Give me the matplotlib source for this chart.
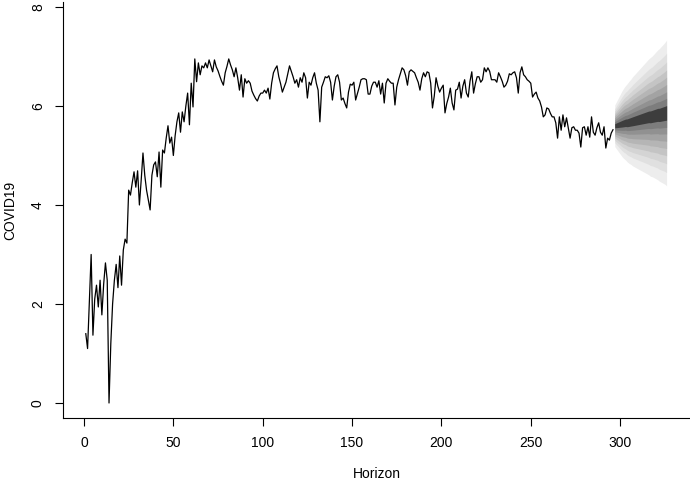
import numpy as np
import matplotlib
matplotlib.use("Agg")
import matplotlib.pyplot as plt

plt.rcParams['font.family'] = ['Liberation Sans', 'DejaVu Sans']

# observed series (index 1..296)
covid = [
    1.40, 1.10, 2.05, 3.00, 1.37, 2.10, 2.38, 1.94, 2.48, 1.78,
    2.40, 2.83, 2.48, 0.00, 1.20, 2.00, 2.48, 2.80, 2.33, 2.97,
    2.38, 3.09, 3.31, 3.23, 4.30, 4.20, 4.45, 4.67, 4.36, 4.69,
    4.00, 4.50, 5.05, 4.60, 4.30, 4.10, 3.90, 4.60, 4.81, 4.87,
    4.57, 5.07, 4.36, 5.11, 5.05, 5.35, 5.60, 5.25, 5.37, 5.00,
    5.40, 5.68, 5.86, 5.47, 5.88, 5.68, 6.00, 6.26, 5.62, 6.46,
    5.98, 6.95, 6.49, 6.87, 6.63, 6.81, 6.77, 6.87, 6.77, 6.93,
    6.81, 6.69, 6.93, 6.79, 6.71, 6.60, 6.50, 6.42, 6.67, 6.80,
    6.95, 6.83, 6.73, 6.59, 6.77, 6.57, 6.32, 6.63, 6.18, 6.55,
    6.46, 6.51, 6.46, 6.30, 6.22, 6.15, 6.10, 6.20, 6.26, 6.26,
    6.32, 6.26, 6.36, 6.14, 6.46, 6.67, 6.75, 6.81, 6.59, 6.45,
    6.28, 6.38, 6.48, 6.65, 6.81, 6.70, 6.59, 6.46, 6.53, 6.38,
    6.57, 6.48, 6.67, 6.57, 6.16, 6.48, 6.42, 6.57, 6.67, 6.46,
    6.32, 5.68, 6.38, 6.48, 6.59, 6.57, 6.61, 6.48, 6.12, 6.40,
    6.59, 6.63, 6.48, 6.12, 6.16, 6.05, 5.96, 6.28, 6.44, 6.42,
    6.48, 6.12, 6.25, 6.38, 6.53, 6.55, 6.55, 6.53, 6.24, 6.24,
    6.40, 6.48, 6.48, 6.38, 6.51, 6.24, 6.46, 6.06, 6.46, 6.55,
    6.50, 6.46, 6.46, 6.02, 6.38, 6.53, 6.65, 6.77, 6.73, 6.61,
    6.42, 6.69, 6.73, 6.70, 6.67, 6.57, 6.48, 6.32, 6.55, 6.67,
    6.59, 6.69, 6.67, 6.46, 5.96, 6.20, 6.57, 6.40, 6.28, 6.36,
    6.42, 5.86, 6.05, 6.18, 6.36, 6.06, 5.92, 6.32, 6.34, 6.48,
    6.16, 6.40, 6.53, 6.26, 6.18, 6.50, 6.69, 6.26, 6.45, 6.59,
    6.59, 6.48, 6.53, 6.77, 6.69, 6.77, 6.70, 6.53, 6.53, 6.53,
    6.48, 6.67, 6.59, 6.50, 6.38, 6.42, 6.50, 6.65, 6.63, 6.67,
    6.69, 6.57, 6.26, 6.67, 6.79, 6.63, 6.59, 6.53, 6.50, 6.46,
    6.18, 6.24, 6.28, 6.16, 6.10, 5.98, 5.78, 5.82, 5.96, 5.94,
    5.85, 5.78, 5.78, 5.66, 5.35, 5.78, 5.51, 5.82, 5.58, 5.76,
    5.56, 5.35, 5.56, 5.58, 5.51, 5.51, 5.45, 5.17, 5.56, 5.58,
    5.41, 5.58, 5.37, 5.78, 5.47, 5.41, 5.56, 5.66, 5.47, 5.41,
    5.58, 5.15, 5.35, 5.31, 5.45, 5.52,
]

# forecast: point forecast and outer (widest band) half-width, h = 1..30
fc_mean = [
    5.60, 5.61, 5.62, 5.63, 5.64, 5.65, 5.66, 5.66, 5.67, 5.68,
    5.69, 5.70, 5.71, 5.72, 5.73, 5.74, 5.75, 5.76, 5.77, 5.78,
    5.78, 5.79, 5.80, 5.81, 5.82, 5.82, 5.83, 5.84, 5.85, 5.86,
]
fc_halfwidth = [
    0.42, 0.48, 0.54, 0.60, 0.66, 0.71, 0.75, 0.79, 0.83, 0.86,
    0.90, 0.93, 0.96, 0.99, 1.02, 1.05, 1.08, 1.11, 1.14, 1.17,
    1.20, 1.22, 1.25, 1.28, 1.31, 1.34, 1.37, 1.40, 1.43, 1.47,
]

# nested fan bands, outer -> inner (fraction of outer half-width, grey level)
band_frac = [1.0, 0.82, 0.70, 0.59, 0.49, 0.39, 0.29, 0.20, 0.10]
band_grey = [0.93, 0.88, 0.83, 0.77, 0.71, 0.64, 0.57, 0.49, 0.24]

t_obs = np.arange(1, len(covid) + 1)
t_fc = np.arange(len(covid) + 1, len(covid) + 1 + len(fc_mean))
mean = np.array(fc_mean)
hw = np.array(fc_halfwidth)

fig = plt.figure(figsize=(6.9, 4.87), dpi=100)
ax = fig.add_axes([63/690, 69/487, 627/690, 416/487])

for f, g in zip(band_frac, band_grey):
    ax.fill_between(t_fc, mean - f*hw, mean + f*hw, color=str(g), lw=0)

ax.plot(t_obs, covid, color='black', lw=0.9)

ax.set_xlim(-11.75, 339.1)
ax.set_ylim(-0.303, 8.10)
ax.set_xticks(np.arange(0, 301, 50))
ax.set_yticks(np.arange(0, 9, 2))
ax.spines['top'].set_visible(False)
ax.spines['right'].set_visible(False)
for s in ['left', 'bottom']:
    ax.spines[s].set_linewidth(0.8)
ax.tick_params(direction='out', length=6, width=0.8, labelsize=10)
ax.tick_params(axis='x', pad=7)
ax.tick_params(axis='y', pad=7)
for lab in ax.get_yticklabels():
    lab.set_rotation(90)
    lab.set_va('center')

ax.set_xlabel('Horizon', fontsize=10, labelpad=12)
ax.set_ylabel('COVID19', fontsize=10, labelpad=10)

fig.savefig('out.png', dpi=100)
